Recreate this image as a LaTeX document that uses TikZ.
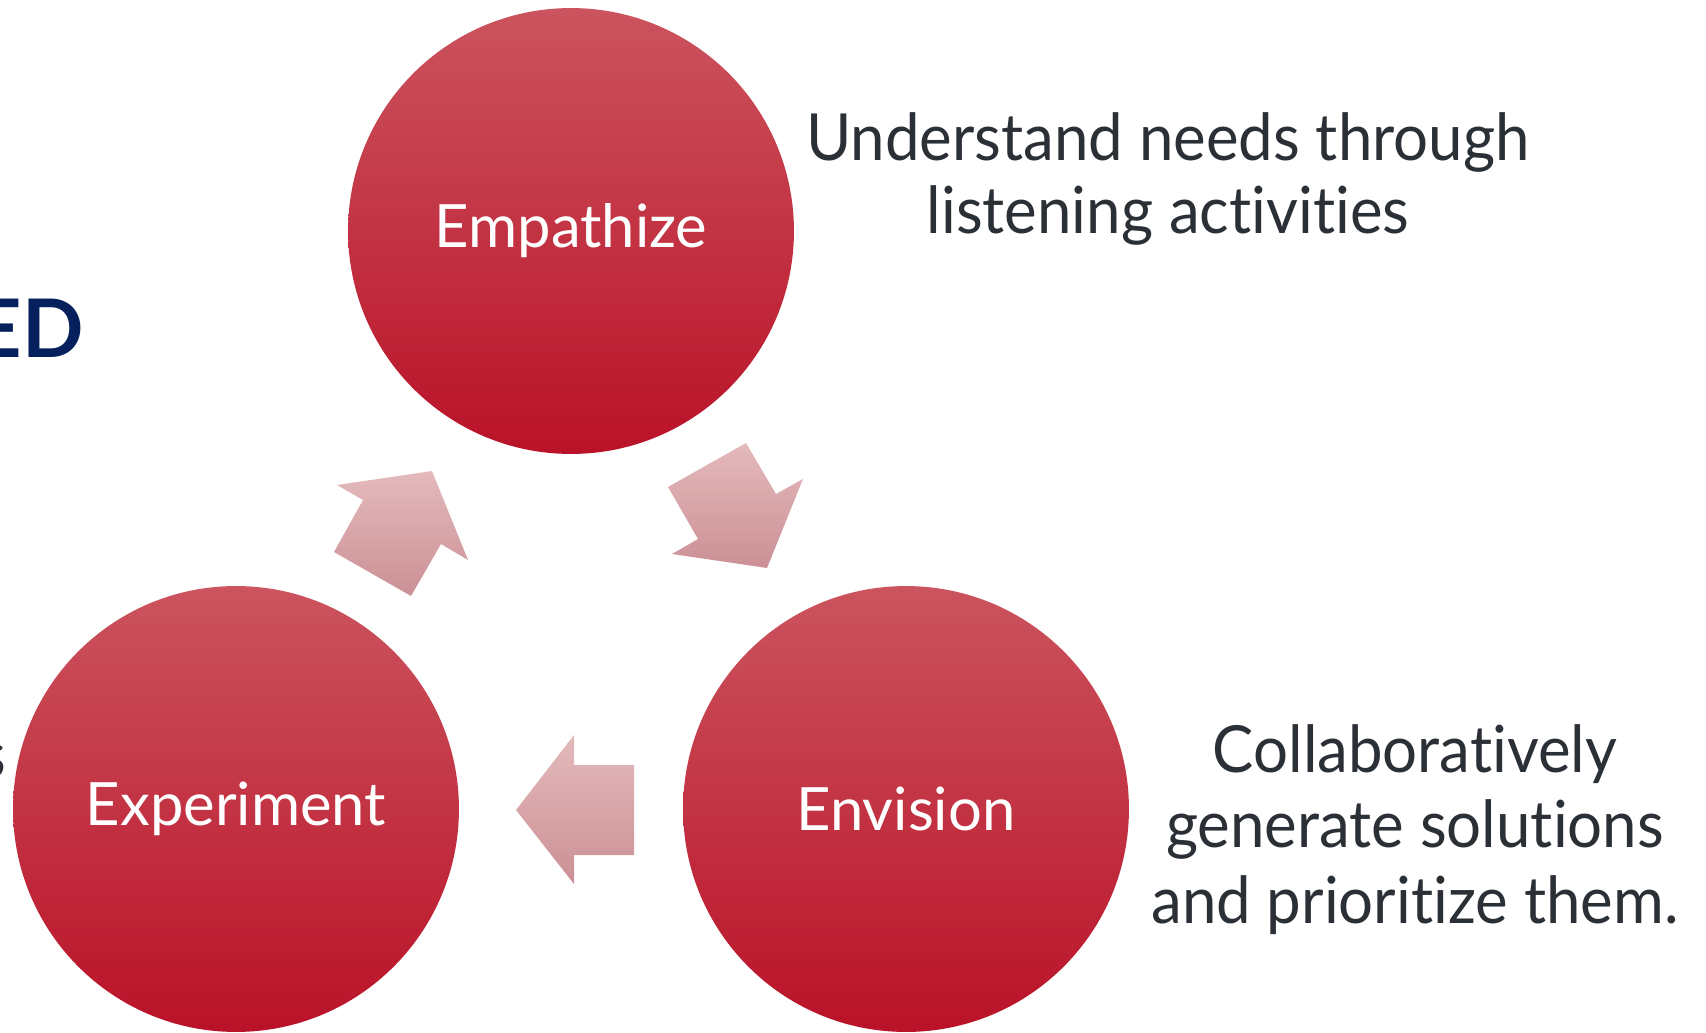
\documentclass[tikz,border=0pt]{standalone}
\usepackage{fontspec}
\setmainfont{Lato}[Ligatures=NoCommon]
\newfontfamily\notefont{Lato}[FakeStretch=0.95, Ligatures=NoCommon]
\usepackage{tikz}
\usetikzlibrary{positioning, calc}

\definecolor{stagetop}{RGB}{203,84,94}
\definecolor{stagemid}{RGB}{199,32,52}
\definecolor{stagebot}{RGB}{186,18,40}
\definecolor{flowtop}{RGB}{228,186,188}
\definecolor{flowbot}{RGB}{203,144,149}
\definecolor{notegray}{RGB}{43,47,54}
\definecolor{headnavy}{RGB}{6,32,94}

\tikzset{
  stage/.style={circle, minimum size=8.92cm, inner sep=0pt,
    top color=stagetop, middle color=stagemid, bottom color=stagebot,
    text=white, font=\fontsize{34}{40}\selectfont},
  flow/.style={top color=flowtop, bottom color=flowbot, draw=none},
  note/.style={align=center, inner sep=0pt, text=notegray}
}

\begin{document}
\begin{tikzpicture}[x=0.02cm, y=-0.02cm]
      \useasboundingbox (0,0) rectangle (1706,1033);
      \clip (0,0) rectangle (1706,1033);

      % the three stages of the cycle
      \node[stage] (empathize) at (571,231) {Empathize};
      \node[stage] (envision) at (906,809) {Envision};
      \node[stage] (experiment) at (236,809) {Experiment};

      % block arrows between the stages
      \shade[flow] (668,487) -- (746,443) -- (776,494) -- (803,479) -- (767,568) -- (672,554) -- (698,539) -- cycle;
      \shade[flow] (516,810) -- (574,735) -- (574,765) -- (634,765) -- (634,855) -- (574,855) -- (574,884) -- cycle;
      \shade[flow] (337,485) -- (432,471) -- (468,560) -- (441,544) -- (411,596) -- (334,552) -- (363,500) -- cycle;

      % notes beside the stages
      \node[note, anchor=north, font=\notefont\fontsize{37}{41.6}\selectfont] (empathize-note) at (1168,112)
        {Understand needs through\\listening activities};
      \node[note, anchor=north, font=\notefont\fontsize{37}{43}\selectfont] (envision-note) at (1415,724)
        {Collaboratively\\generate solutions\\and prioritize them.};

      % title and note running in from the left
      \node[anchor=base east, inner sep=0pt, text=headnavy, font=\fontsize{46}{50}\bfseries] (title) at (84,358) {ED};
      \node[anchor=base east, inner sep=0pt, text=notegray, font=\notefont\fontsize{37}{40}\selectfont] (experiment-note) at (7,777) {s};
    \end{tikzpicture}
\end{document}
